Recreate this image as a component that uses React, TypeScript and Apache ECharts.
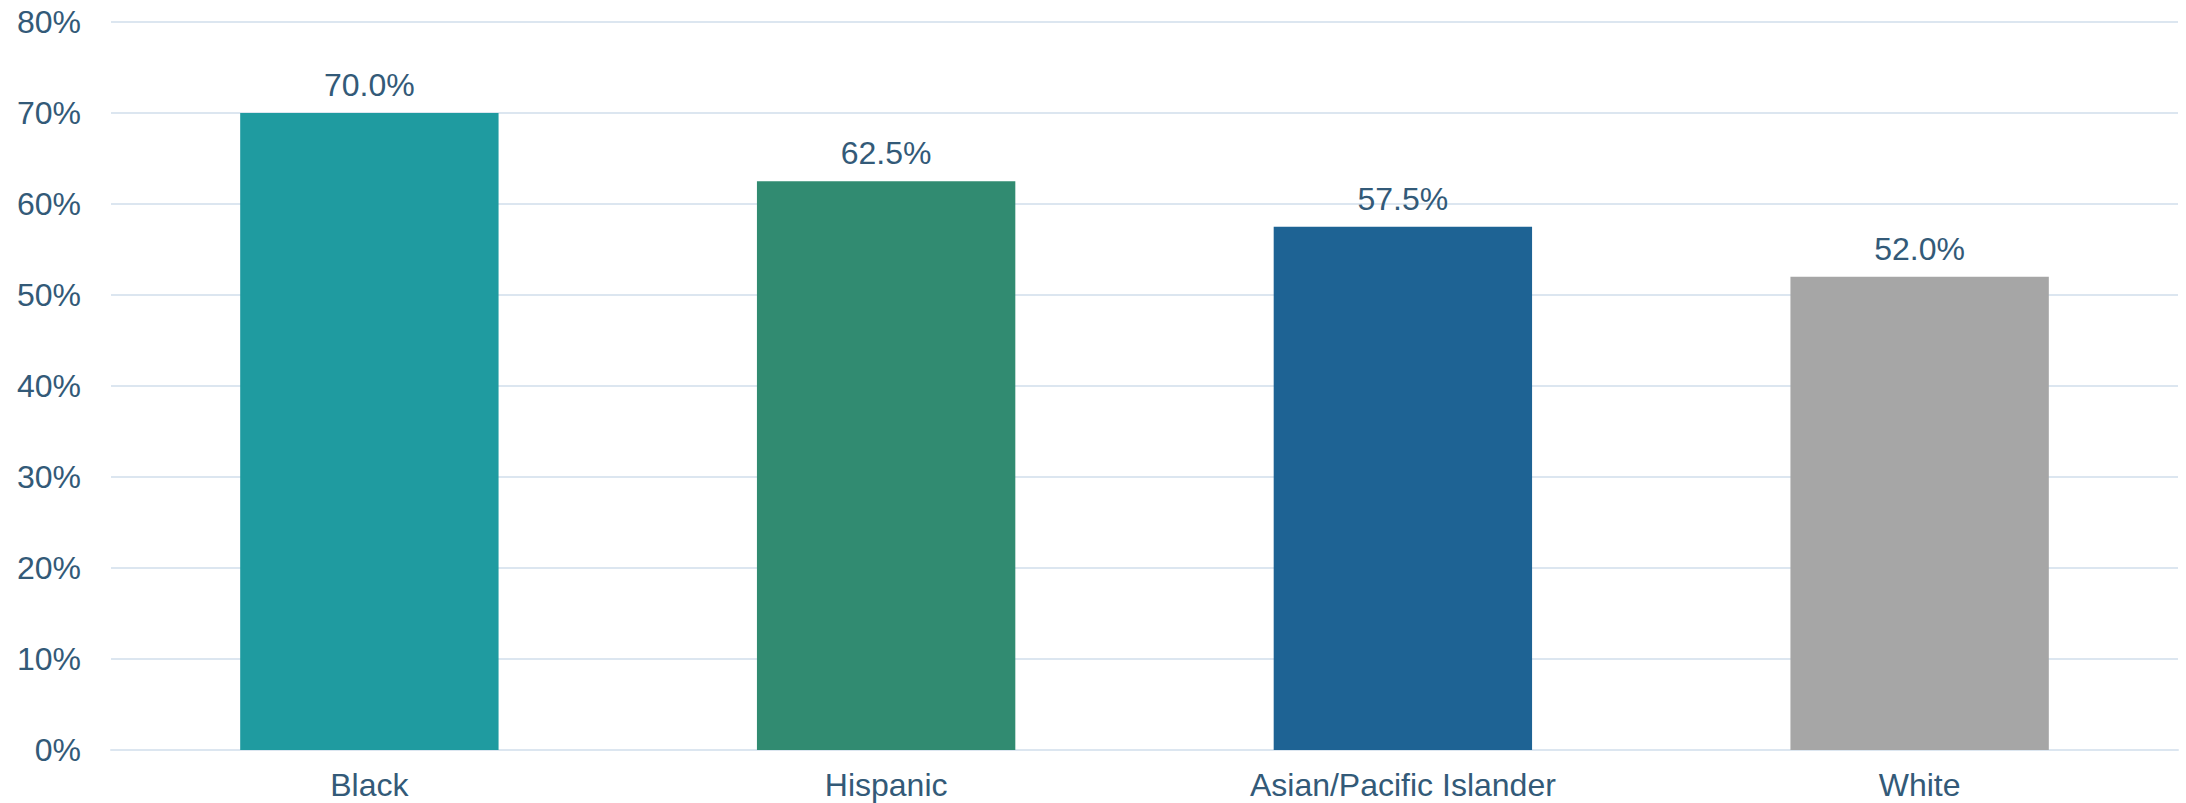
import React, { useEffect, useRef } from "react";
import * as echarts from "echarts";

const categories = ["Black", "Hispanic", "Asian/Pacific Islander", "White"];
const values = [70.0, 62.5, 57.5, 52.0];
const barColors = ["#1f9ba0", "#318b71", "#1e6394", "#a6a6a6"];
const yTicks = [0, 10, 20, 30, 40, 50, 60, 70, 80];

const TEXT = "#335a78";
const FONT = "'Liberation Sans', Arial, sans-serif";

export default function App() {
  const ref = useRef<HTMLDivElement>(null);
  useEffect(() => {
    if (!ref.current) return;
    const chart = echarts.init(ref.current, undefined, { renderer: "svg" });
    chart.setOption({
      animation: false,
      backgroundColor: "#ffffff",
      grid: { left: 111, right: 8, top: 22, bottom: 53, containLabel: false },
      xAxis: {
        type: "category",
        data: categories,
        axisLine: { show: true, lineStyle: { color: "#dce6f0", width: 2 } },
        axisTick: { show: false },
        axisLabel: { color: TEXT, fontSize: 32, fontFamily: FONT, margin: 19 },
      },
      yAxis: {
        type: "value",
        min: yTicks[0],
        max: yTicks[yTicks.length - 1],
        interval: 10,
        axisLine: { show: false },
        axisTick: { show: false },
        splitLine: { show: true, lineStyle: { color: "#dce6f0", width: 2 } },
        axisLabel: {
          color: TEXT,
          fontSize: 32,
          fontFamily: FONT,
          margin: 30,
          formatter: (v: number) => `${v}%`,
        },
      },
      series: [
        {
          type: "bar",
          barWidth: "50%",
          data: values.map((v, i) => ({ value: v, itemStyle: { color: barColors[i] } })),
          label: {
            show: true,
            position: "top",
            distance: 12,
            color: TEXT,
            fontSize: 32,
            fontFamily: FONT,
            formatter: (p: any) => `${Number(p.value).toFixed(1)}%`,
          },
        },
      ],
    });
    return () => chart.dispose();
  }, []);
  return (
    <div
      ref={ref}
      style={{ position: "fixed", left: 0, top: 0, width: 2186, height: 803, background: "#fff" }}
    />
  );
}
